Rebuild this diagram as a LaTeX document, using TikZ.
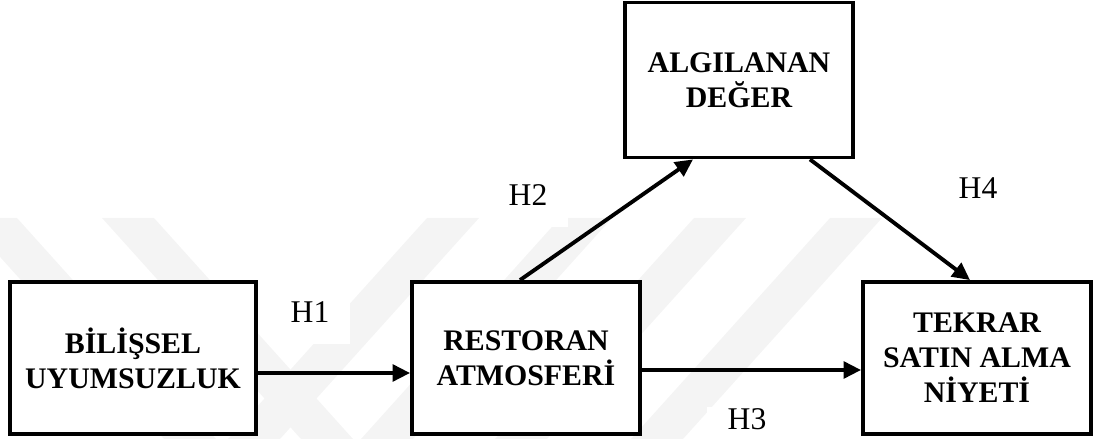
\documentclass[tikz,border=0pt]{standalone}
\usepackage{fontspec}
\setmainfont{Liberation Serif}
\usetikzlibrary{positioning, arrows.meta}

\begin{document}
\begin{tikzpicture}[
    x=0.02cm, y=-0.02cm,
    model block/.style={
      rectangle,
      draw=black,
      fill=white,
      line width=2.2pt,
      align=center,
      inner sep=0pt,
      font=\fontsize{17}{20}\selectfont\bfseries
    },
    model arrow/.style={
      -{Triangle[length=10pt,width=9.5pt]},
      line width=2.2pt,
      color=black
    },
    hyp label/.style={
      fill=white,
      inner sep=0pt,
      minimum width=1.6cm,
      minimum height=1.3cm,
      font=\fontsize{18}{20}\selectfont
    },
    watermark/.style={
      fill=gray!9,
      draw=none
    }
  ]

    \useasboundingbox (0,0) rectangle (1093,439);

    % faint bands behind the model
    \foreach \xa in {-35,102} {
      \fill[watermark] (\xa,218) -- ++(52,0) -- ++(199,221) -- ++(-52,0) -- cycle;
    }
    \foreach \xa in {427,560,694,830} {
      \fill[watermark] (\xa,218) -- ++(52,0) -- ++(-199,221) -- ++(-52,0) -- cycle;
    }

    \node[model block, minimum width=4.92cm, minimum height=3.04cm] (block1) at (133,358) {
      BİLİŞSEL\\UYUMSUZLUK
    };

    \node[model block, minimum width=4.56cm, minimum height=3.04cm] (block2) at (526,358) {
      RESTORAN\\ATMOSFERİ
    };

    \node[model block, minimum width=4.56cm, minimum height=3.1cm] (block3) at (739,80) {
      ALGILANAN\\DEĞER
    };

    \node[model block, minimum width=4.56cm, minimum height=3.04cm] (block4) at (977,358) {
      TEKRAR\\SATIN ALMA\\NİYETİ
    };

    \node[hyp label] (h1) at (310,312) {H1};
    \node[hyp label] (h2) at (528,195) {H2};
    \node[hyp label, minimum height=0.5cm] (h3) at (747,419) {H3};
    \node[hyp label] (h4) at (978,188) {H4};

    \draw[model arrow] ([yshift=-0.3cm]block1.east) -- ([yshift=-0.3cm]block2.west);
    \draw[model arrow] ([yshift=-0.24cm]block2.east) -- ([yshift=-0.24cm]block4.west);
    \draw[model arrow] ([xshift=-0.12cm]block2.north) -- ([xshift=-0.92cm]block3.south);
    \draw[model arrow] ([xshift=1.42cm]block3.south) -- ([xshift=-0.14cm]block4.north);

  \end{tikzpicture}
\end{document}
